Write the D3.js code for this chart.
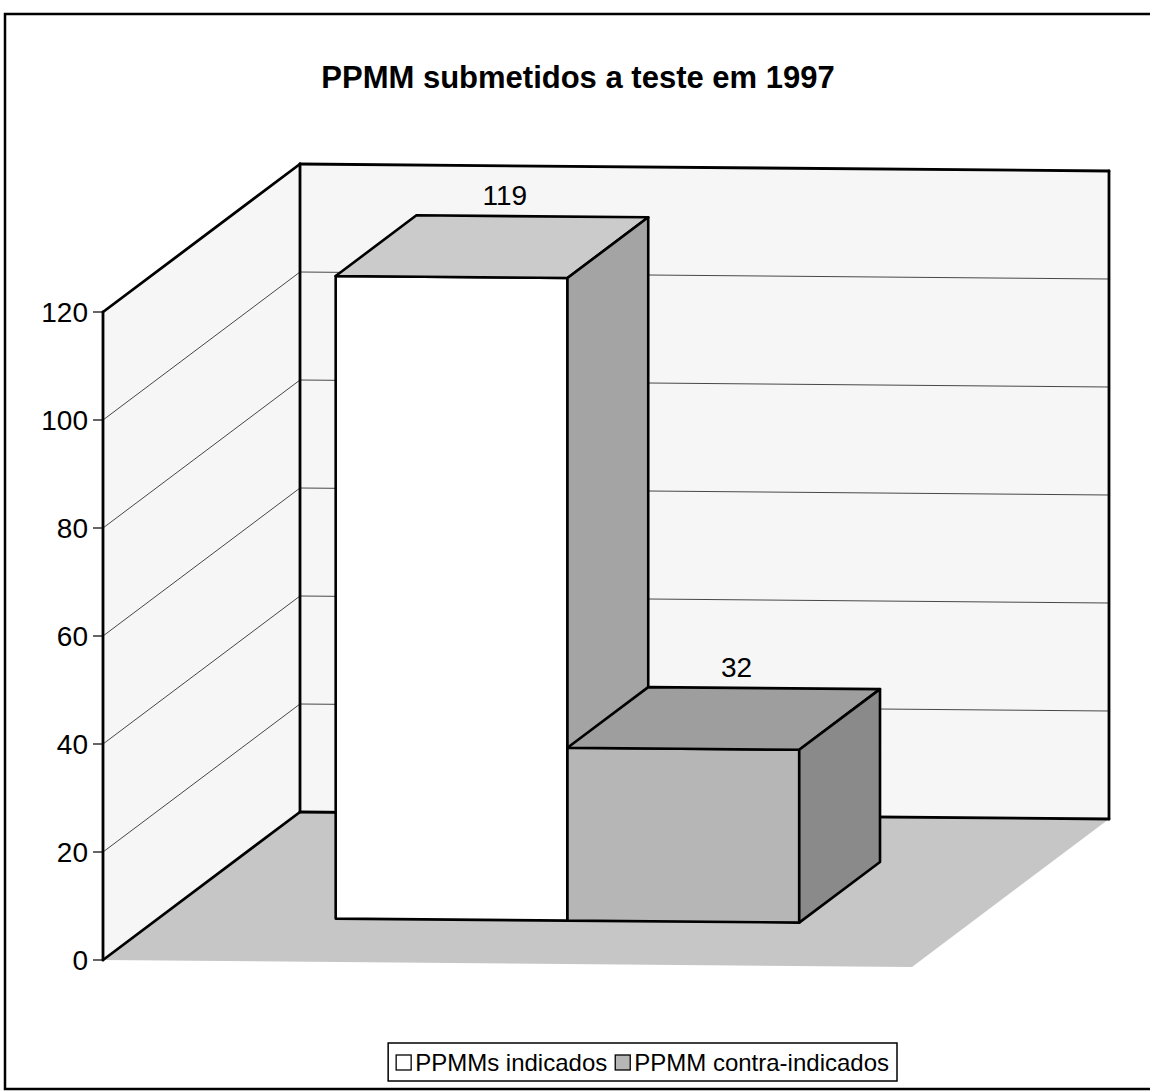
<!DOCTYPE html>
<html lang="pt">
<head>
<meta charset="UTF-8">
<script src="https://d3js.org/d3.v7.min.js"></script>
<style>
    body { margin: 0; background: #fff; }
    svg { display: block; font-family: "Liberation Sans", Arial, sans-serif; }
    .wall { fill: #f6f6f6; stroke: none; }
    .floor { fill: #c6c6c6; stroke: none; }
    .edge { stroke: #000; stroke-width: 2.8; fill: none; stroke-linecap: round; }
    .grid { stroke: #333; stroke-width: 0.9; fill: none; }
    .face { stroke: #000; stroke-width: 2.6; stroke-linejoin: round; }
    .tick text, .datalabel { font-size: 28px; fill: #000; }
    .legend text { font-size: 24px; fill: #000; }
</style>
</head>
<body>
<svg id="chart" width="1150" height="1091"></svg>
<script>
    // data
    const chartTitle = "PPMM submetidos a teste em 1997";
    const categories = ["PPMMs indicados", "PPMM contra-indicados"];
    const values = [119, 32];
    const yTicks = [0, 20, 40, 60, 80, 100, 120];
    const faceColors = [
        {front: "#ffffff", top: "#cbcbcb", side: "#a4a4a4"},
        {front: "#b6b6b6", top: "#9e9e9e", side: "#8a8a8a"}
    ];

    const svg = d3.select("#chart");

    //outer frame
    svg.append("rect")
       .attr("x", 5).attr("y", 14)
       .attr("width", 1160).attr("height", 1075)
       .attr("fill", "none").attr("stroke", "#000").attr("stroke-width", 2.5);

    //title
    svg.append("text")
       .attr("x", 578).attr("y", 88)
       .attr("text-anchor", "middle")
       .style("font-size", "31px").style("font-weight", "bold")
       .text(chartTitle);

    //oblique projection: x along categories (0..1), v = value, z = depth (0..1)
    const ox = 103, oy = 960;
    const y = d3.scaleLinear().domain([0, 120]).range([0, 648]);
    const xb = d3.scaleBand().domain(categories).range([0.217, 0.79]).padding(0);
    const P = (x, v, z) => [ox + x * 809 + z * 197, oy + x * 7 - y(v) - z * 148];
    const line = d3.line();

    const g = svg.append("g");

    //walls and floor
    g.append("path").attr("class", "wall")
     .attr("d", line([P(0,0,0), P(0,120,0), P(0,120,1), P(0,0,1)]) + "Z");
    g.append("path").attr("class", "wall")
     .attr("d", line([P(0,0,1), P(0,120,1), P(1,120,1), P(1,0,1)]) + "Z");
    g.append("path").attr("class", "floor")
     .attr("d", line([P(0,0,0), P(1,0,0), P(1,0,1), P(0,0,1)]) + "Z");

    //gridlines
    yTicks.filter(v => v > 0 && v < 120).forEach(v => {
        g.append("path").attr("class", "grid").attr("d", line([P(0,v,0), P(0,v,1), P(1,v,1)]));
    });

    //wall edges
    const edges = [
        [P(0,0,0), P(0,120,0)], [P(0,120,0), P(0,120,1)], [P(0,0,1), P(0,120,1)],
        [P(0,120,1), P(1,120,1)], [P(1,120,1), P(1,0,1)], [P(0,0,1), P(1,0,1)],
        [P(0,0,0), P(0,0,1)]
    ];
    edges.forEach(e => g.append("path").attr("class", "edge").attr("d", line(e)));

    //axis ticks + labels
    const ticks = g.selectAll("g.tick").data(yTicks).join("g")
        .attr("class", "tick")
        .attr("transform", d => `translate(${P(0,d,0)[0]},${P(0,d,0)[1]})`);
    ticks.append("line").attr("x1", -10).attr("x2", 0)
         .attr("stroke", "#000").attr("stroke-width", 1.2);
    ticks.append("text").attr("x", -15).attr("dy", "0.35em")
         .attr("text-anchor", "end").text(d => d);

    //bars
    const z0 = 0.29, z1 = 0.70;
    categories.forEach((c, i) => {
        const v = values[i];
        const x0 = xb(c), x1 = x0 + xb.bandwidth();
        const col = faceColors[i];
        g.append("path").attr("class", "face").attr("fill", col.front)
         .attr("d", line([P(x0,0,z0), P(x1,0,z0), P(x1,v,z0), P(x0,v,z0)]) + "Z");
        g.append("path").attr("class", "face").attr("fill", col.top)
         .attr("d", line([P(x0,v,z0), P(x1,v,z0), P(x1,v,z1), P(x0,v,z1)]) + "Z");
        g.append("path").attr("class", "face").attr("fill", col.side)
         .attr("d", line([P(x1,0,z0), P(x1,0,z1), P(x1,v,z1), P(x1,v,z0)]) + "Z");

        const xc = x0 + xb.bandwidth() / 2;
        g.append("text").attr("class", "datalabel")
         .attr("x", P(xc, v, 0.56)[0])
         .attr("y", P(xc, v, z1)[1] - 11)
         .attr("text-anchor", "middle")
         .text(v);
    });

    //legend
    const legend = svg.append("g").attr("class", "legend");
    const box = legend.append("rect")
        .attr("y", 1043).attr("height", 38)
        .attr("fill", "#fff").attr("stroke", "#000").attr("stroke-width", 1.5);
    let cx = 0;
    const items = [];
    categories.forEach((c, i) => {
        const sq = legend.append("rect")
            .attr("y", 1055).attr("width", 15).attr("height", 15)
            .attr("fill", faceColors[i].front).attr("stroke", "#000").attr("stroke-width", 1.3);
        const t = legend.append("text").attr("y", 1071).text(c);
        items.push({sq, t, x: cx});
        cx += 15 + 4 + t.node().getComputedTextLength() + 8;
    });
    const legW = cx - 8 + 16;
    const legX = 897 - legW;
    box.attr("x", legX).attr("width", legW);
    items.forEach(it => {
        it.sq.attr("x", legX + 8 + it.x);
        it.t.attr("x", legX + 8 + it.x + 19);
    });
</script>
</body>
</html>
